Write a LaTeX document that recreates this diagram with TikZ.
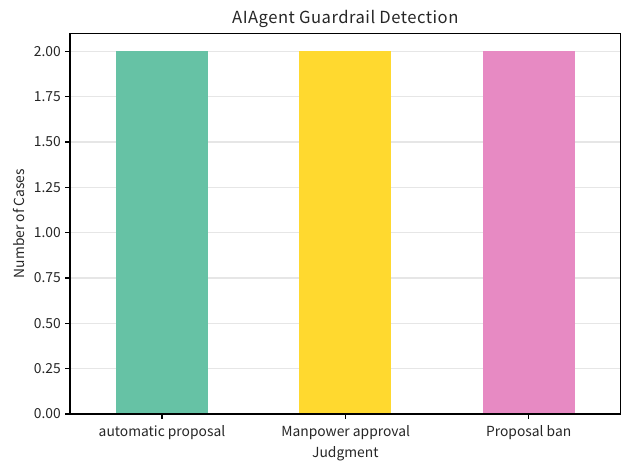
\documentclass[tikz,border=0pt]{standalone}
\usepackage{fontspec}
\setmainfont{Noto Sans CJK JP}
\definecolor{cgreen}{HTML}{66C2A5}
\definecolor{cyellow}{HTML}{FFD92F}
\definecolor{cpink}{HTML}{E78AC3}
\definecolor{cgrid}{HTML}{E6E6E6}
\definecolor{ctext}{HTML}{262626}
\begin{document}
\begin{tikzpicture}[x=0.01in,y=-0.01in,
  gridline/.style={draw=cgrid,line width=0.8pt},
  spine/.style={draw=black,line width=0.8pt},
  tick/.style={draw=black,line width=0.8pt},
  ticklab/.style={font=\fontsize{10}{12}\selectfont,text=ctext,inner sep=0pt},
  bar/.style={draw=none}]
\useasboundingbox (0,0) rectangle (630,470);
% grid
\foreach \v/\y in {0.25/368.7,0.50/323.4,0.75/278.0,1.00/232.7,1.25/187.4,1.50/142.0,1.75/96.7,2.00/51.3}{
  \draw[gridline] (70,\y) -- (620.7,\y);
}
% bars
\fill[cgreen] (116,51.3) rectangle (208,414);
\fill[cyellow] (299.3,51.3) rectangle (391.3,414);
\fill[cpink] (482.7,51.3) rectangle (574.7,414);
% spines
\draw[spine] (70,33.3) rectangle (620.7,414);
% y ticks
\foreach \v/\y in {0.00/414,0.25/368.7,0.50/323.4,0.75/278.0,1.00/232.7,1.25/187.4,1.50/142.0,1.75/96.7,2.00/51.3}{
  \draw[tick] (70,\y) -- (65.1,\y);
  \node[ticklab,anchor=east] (yt\v) at (61,\y) {\v};
}
% x ticks
\foreach \x/\lab/\n in {162/automatic proposal/a,345.7/Manpower approval/b,528.7/Proposal ban/c}{
  \draw[tick] (\x,414) -- (\x,418.9);
  \node[ticklab,anchor=north] (xt\n) at (\x,425.5) {\lab};
}
\node[ticklab,anchor=north] (xlabel) at (345.3,446.5) {Judgment};
\node[ticklab,rotate=90,anchor=south] (ylabel) at (25,223.6) {Number of Cases};
\node[font=\fontsize{12}{14}\selectfont,text=ctext,inner sep=0pt,anchor=south] (title) at (345.3,28) {\addfontfeature{LetterSpace=3}AIAgent Guardrail Detection};
\end{tikzpicture}
\end{document}
